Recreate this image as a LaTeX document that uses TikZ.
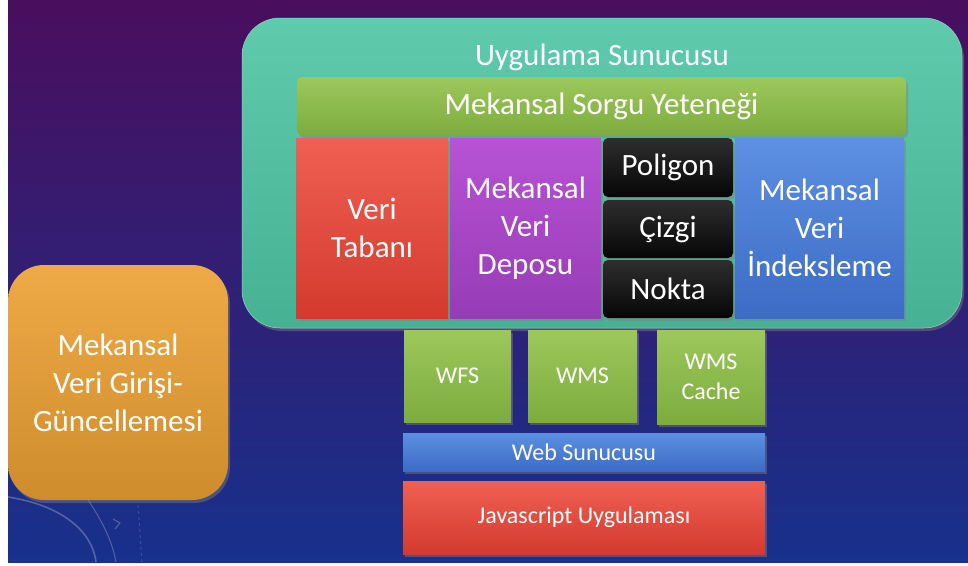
\documentclass[tikz,border=0pt]{standalone}
\usepackage{fontspec}
\setmainfont{Carlito}
\usetikzlibrary{shadows}
\definecolor{bgtop}{HTML}{4A0E5E}
\definecolor{bgbot}{HTML}{17318C}
\definecolor{tealT}{HTML}{5FCAAC}
\definecolor{tealB}{HTML}{47B293}
\definecolor{grnT}{HTML}{9DC85C}
\definecolor{grnB}{HTML}{7DAC3D}
\definecolor{redT}{HTML}{EF6052}
\definecolor{redB}{HTML}{D43A2E}
\definecolor{purT}{HTML}{B852D6}
\definecolor{purB}{HTML}{963CB5}
\definecolor{blkT}{HTML}{2E2E2E}
\definecolor{blkB}{HTML}{060606}
\definecolor{bluT}{HTML}{5C90E2}
\definecolor{bluB}{HTML}{3C6CC5}
\definecolor{orgT}{HTML}{EEAA46}
\definecolor{orgB}{HTML}{CF8C2C}
\tikzset{
  base/.style={inner sep=0pt, align=center, text=white,
    drop shadow={shadow xshift=2pt, shadow yshift=-3pt, opacity=0.45}},
  big/.style={font=\fontsize{31}{38}\selectfont},
  small/.style={font=\fontsize{24}{30}\selectfont},
  tealbox/.style={base, top color=tealT, bottom color=tealB, draw=tealT!70!white, line width=0.5pt, rounded corners=38pt},
  grnbox/.style={base, top color=grnT, bottom color=grnB, rounded corners=5pt},
  redbox/.style={base, top color=redT, bottom color=redB},
  purbox/.style={base, top color=purT, bottom color=purB},
  blkbox/.style={base, top color=blkT, bottom color=blkB, rounded corners=5pt},
  blubox/.style={base, top color=bluT, bottom color=bluB},
  orgbox/.style={base, top color=orgT, bottom color=orgB, rounded corners=36pt},
  deco/.style={white, opacity=0.25, line width=1.6pt}
}
\begin{document}
\begin{tikzpicture}[x=1pt, y=-1pt]
\useasboundingbox (0,0) rectangle (968,565);
\fill[white] (0,0) rectangle (968,565);
\shade[top color=bgtop, bottom color=bgbot] (8,0) rectangle (968,562);
% faint decoration
\draw[deco] (8,497) .. controls (60,505) and (92,530) .. (96,562);
\draw[deco, line width=1pt] (88,500) .. controls (105,525) and (113,545) .. (116,562);
\draw[deco, line width=1pt] (113,519) -- (120,523) -- (115,529);
\draw[deco, line width=1pt, dashed, opacity=0.15] (138,505) -- (142,562);
% application server
\node[tealbox, minimum width=720pt, minimum height=310pt] (app) at (602,173) {};
\node[big, text=white, inner sep=0pt] (applbl) at (602,57) {Uygulama Sunucusu};
\node[grnbox, big, minimum width=609pt, minimum height=58pt] (sorgu) at (601.5,106) {Mekansal Sorgu Yeteneği};
\node[redbox, big, minimum width=152pt, minimum height=180pt] (vt) at (372,228) {Veri\\Tabanı};
\node[purbox, big, minimum width=151pt, minimum height=180pt] (depo) at (525.5,228) {Mekansal\\Veri\\Deposu};
\node[blkbox, big, minimum width=130pt, minimum height=59pt] (poligon) at (668,167.5) {Poligon};
\node[blkbox, big, minimum width=130pt, minimum height=58pt] (cizgi) at (668,229) {Çizgi};
\node[blkbox, big, minimum width=130pt, minimum height=58pt] (nokta) at (668,289) {Nokta};
\node[blubox, big, minimum width=169pt, minimum height=180pt] (indeks) at (819.5,228) {Mekansal\\Veri\\İndeksleme};
% left box
\node[orgbox, big, minimum width=220pt, minimum height=235pt] (giris) at (118,382.5) {Mekansal\\Veri Girişi-\\Güncellemesi};
% services
\node[grnbox, rounded corners=0pt, small, minimum width=107pt, minimum height=92pt] (wfs) at (457.5,376) {WFS};
\node[grnbox, rounded corners=0pt, small, minimum width=109pt, minimum height=92pt] (wms) at (582.5,376) {WMS};
\node[grnbox, rounded corners=0pt, small, minimum width=108pt, minimum height=94pt] (cache) at (711,377) {WMS\\Cache};
\node[blubox, small, minimum width=362pt, minimum height=38pt] (web) at (584,452) {Web Sunucusu};
\node[redbox, small, minimum width=362pt, minimum height=73pt] (js) at (584,517.5) {Javascript Uygulaması};
\end{tikzpicture}
\end{document}
